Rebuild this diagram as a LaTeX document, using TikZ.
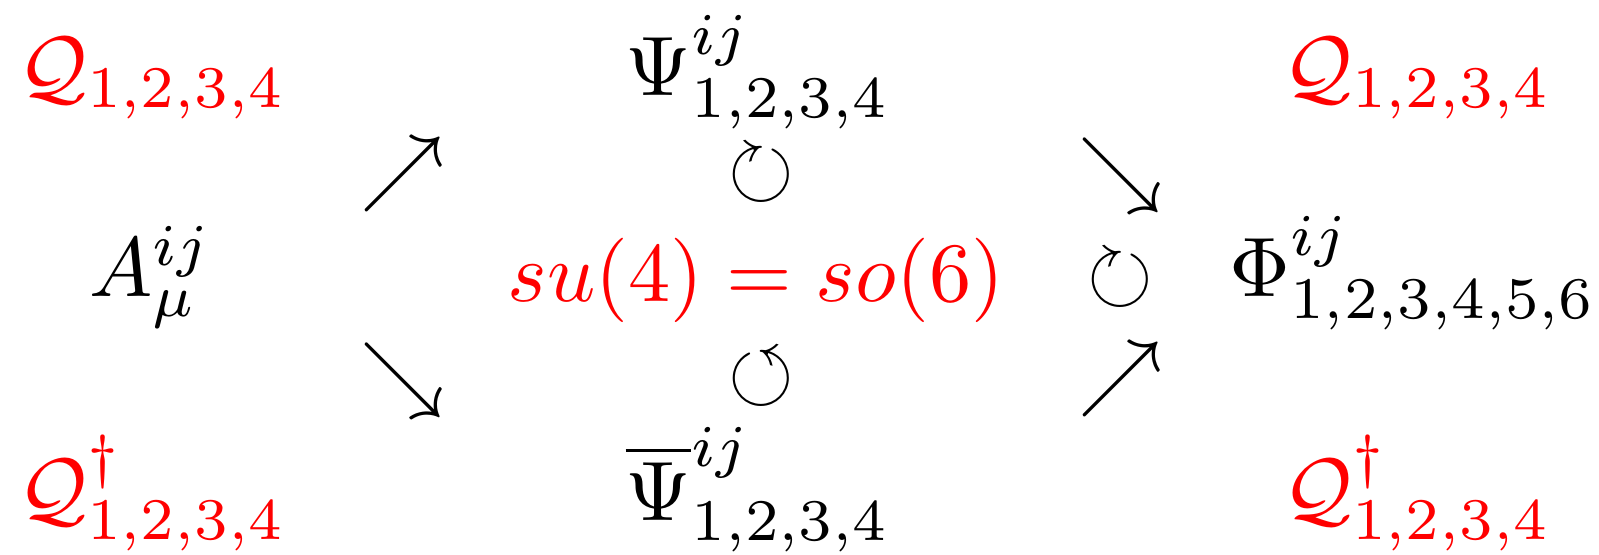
\documentclass[tikz,border=0pt]{standalone}
\usepackage{amssymb}
\begin{document}
\begin{tikzpicture}[x=0.11848pt,y=-0.11848pt,
  txt/.style={inner sep=0pt,anchor=base},
  sym/.style={inner sep=0pt}]
\useasboundingbox (0,0) rectangle (1599,554);
% left column
\node[txt,red] (q1) at (152,95) {$\mathcal{Q}_{1,2,3,4}$};
\node[txt] (a) at (151,296) {$A_\mu^{ij}$};
\node[txt,red] (q2) at (152,517) {$\mathcal{Q}^\dagger_{1,2,3,4}$};
% left arrows
\node[sym] (ne1) at (403,174) {$\nearrow$};
\node[sym] (se1) at (403,380) {$\searrow$};
% middle column
\node[txt] (psi) at (758,95) {$\Psi^{ij}_{1,2,3,4}$};
\node[sym] (c1) at (761,174) {$\circlearrowright$};
\node[txt,red] (su) at (756,301) {$su(4)=so(6)$};
\node[sym] (c2) at (761,378) {$\circlearrowleft$};
\node[txt] (psib) at (758,520) {$\overline{\Psi}^{ij}_{1,2,3,4}$};
% right arrows
\node[sym] (se2) at (1121,175) {$\searrow$};
\node[sym] (c3) at (1120,279) {$\circlearrowright$};
\node[sym] (ne2) at (1121,379) {$\nearrow$};
% right column
\node[txt,red] (q3) at (1417,95) {$\mathcal{Q}_{1,2,3,4}$};
\node[txt] (phi) at (1413,296) {$\Phi^{ij}_{1,2,3,4,5,6}$};
\node[txt,red] (q4) at (1417,517) {$\mathcal{Q}^\dagger_{1,2,3,4}$};
\end{tikzpicture}
\end{document}
